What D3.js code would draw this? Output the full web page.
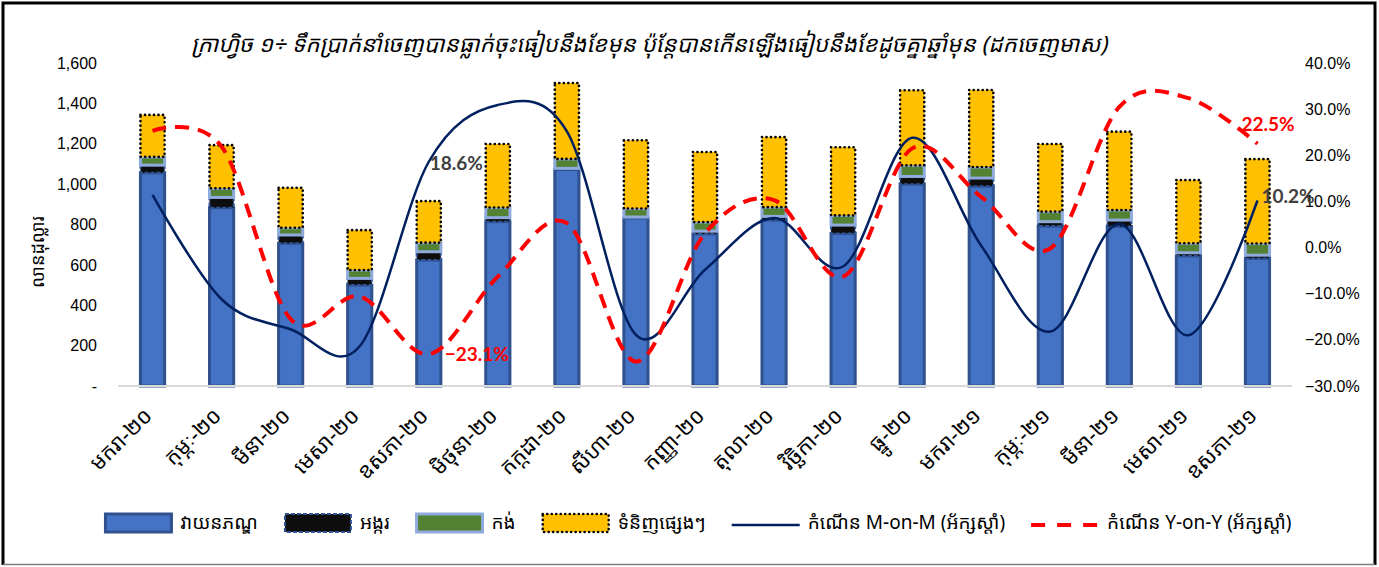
<!DOCTYPE html>
<html>
<head>
<meta charset="utf-8">
<script src="https://cdn.jsdelivr.net/npm/d3@7"></script>
<style>
body { margin: 0; background: #fff; }
text { font-family: "Liberation Sans Narrow", "Arial Narrow", "Liberation Sans", Arial, "Noto Sans Khmer", "Khmer OS", sans-serif; }
.kh { font-family: "Noto Sans Khmer", "Khmer OS", "Noto Serif Khmer", "Liberation Sans", sans-serif; }
</style>
</head>
<body>
<svg id="chart" width="1379" height="567"></svg>
<script>
// monthly exports excluding gold, million USD
var months = ["មករា-២០", "កុម្ភៈ-២០", "មីនា-២០", "មេសា-២០", "ឧសភា-២០", "មិថុនា-២០",
  "កក្កដា-២០", "សីហា-២០", "កញ្ញា-២០", "តុលា-២០", "វិច្ឆិកា-២០", "ធ្នូ-២០",
  "មករា-២១", "កុម្ភៈ-២១", "មីនា-២១", "មេសា-២១", "ឧសភា-២១"];

var garment = [1056, 883, 707, 500, 624, 814, 1072, 832, 753, 822, 756, 1000, 990, 792, 790, 644, 632];
var rice    = [38, 51, 41, 33, 41, 20, 6, 5, 14, 18, 41, 38, 40, 22, 32, 16, 16];
var bicycle = [41, 45, 36, 41, 45, 50, 47, 42, 45, 46, 48, 55, 55, 50, 50, 47, 58];
var other   = [208, 214, 198, 198, 206, 315, 376, 338, 347, 347, 338, 372, 381, 335, 388, 313, 418];

// growth rates, right axis
var momGrowth = [0.114, -0.112, -0.177, -0.214, 0.186, 0.309, 0.252, -0.189, -0.048, 0.064, -0.041, 0.238, 0.004, -0.182, 0.051, -0.190, 0.102];
var yoyGrowth = [0.253, 0.219, -0.155, -0.106, -0.231, -0.063, 0.053, -0.247, 0.031, 0.103, -0.063, 0.215, 0.110, -0.002, 0.305, 0.324, 0.225];

var leftTicks = [0, 200, 400, 600, 800, 1000, 1200, 1400, 1600];
var rightTicks = [-0.3, -0.2, -0.1, 0, 0.1, 0.2, 0.3, 0.4];

var seriesNames = ["វាយនភណ្ឌ", "អង្ករ", "កង់", "ទំនិញផ្សេងៗ"];
var lineNames = ["កំណើន M-on-M (អ័ក្សស្តាំ)", "កំណើន Y-on-Y (អ័ក្សស្តាំ)"];
var title = "ក្រាហ្វិច ១÷ ទឹកប្រាក់នាំចេញបានធ្លាក់ចុះធៀបនឹងខែមុន ប៉ុន្តែបានកើនឡើងធៀបនឹងខែដូចគ្នាឆ្នាំមុន (ដកចេញមាស)";
var yTitle = "លានដុល្លារ";

// styles for each stacked series
var barStyles = [
  { fill: "#4472C4", stroke: "#2F528F", width: 3, dash: null },
  { fill: "#0D0D0D", stroke: "#2F5597", width: 2, dash: "4,2" },
  { fill: "#548235", stroke: "#8FAADC", width: 3, dash: null },
  { fill: "#FFC000", stroke: "#000000", width: 2.6, dash: "0.1,4.4" }
];

var svg = d3.select("#chart");

// frame
svg.append("rect").attr("x", 0).attr("y", 0).attr("width", 1379).attr("height", 567).attr("fill", "#fff");
svg.append("path").attr("d", "M3,565 L3,3 L1375,3 L1375,565").attr("fill", "none").attr("stroke", "#000").attr("stroke-width", 3);
svg.append("line").attr("x1", 3).attr("x2", 1375).attr("y1", 564.5).attr("y2", 564.5).attr("stroke", "#7f7f7f").attr("stroke-width", 1.5);

// scales
var x = d3.scaleBand().domain(months).range([118, 1292]).paddingInner(0.65).paddingOuter(0.325);
var yL = d3.scaleLinear().domain([0, 1600]).range([386, 63]);
var yR = d3.scaleLinear().domain([-0.3, 0.4]).range([386, 63]);
var bw = x.bandwidth();
function cx(i) { return x(months[i]) + bw / 2; }

// title
svg.append("text").attr("class", "kh")
  .attr("x", 649).attr("y", 52)
  .attr("text-anchor", "middle")
  .attr("font-size", 22.5).attr("font-style", "italic")
  .attr("fill", "#000")
  .text(title);

// y axis title
svg.append("text").attr("class", "kh")
  .attr("transform", "translate(44,252) rotate(-90)")
  .attr("text-anchor", "middle")
  .attr("font-size", 18).attr("fill", "#000")
  .text(yTitle);

// left axis
var leftAxis = svg.append("g")
  .attr("transform", "translate(103,0)")
  .call(d3.axisLeft(yL).tickValues(leftTicks).tickSize(0).tickPadding(6)
    .tickFormat(function(d) { return d === 0 ? "-" : d3.format(",")(d); }));
leftAxis.select(".domain").remove();
leftAxis.selectAll("text").attr("font-size", 16).attr("fill", "#000")
  .style("font-family", "'Liberation Sans Narrow','Arial Narrow',sans-serif");

// right axis
var rightAxis = svg.append("g")
  .attr("transform", "translate(1299,0)")
  .call(d3.axisRight(yR).tickValues(rightTicks).tickSize(0).tickPadding(6)
    .tickFormat(d3.format(".1%")));
rightAxis.select(".domain").remove();
rightAxis.selectAll("text").attr("font-size", 16).attr("fill", "#000")
  .style("font-family", "'Liberation Sans Narrow','Arial Narrow',sans-serif");

// stacked bars
var stackData = [garment, rice, bicycle, other];
var cum = months.map(function() { return 0; });
stackData.forEach(function(vals, k) {
  var st = barStyles[k];
  var g = svg.append("g").attr("class", "series-" + k);
  months.forEach(function(m, i) {
    var y0 = cum[i], y1 = cum[i] + vals[i];
    var r = g.append("rect")
      .attr("x", x(m)).attr("width", bw)
      .attr("y", yL(y1)).attr("height", yL(y0) - yL(y1))
      .attr("fill", st.fill)
      .attr("stroke", st.stroke).attr("stroke-width", st.width);
    if (st.dash) r.attr("stroke-dasharray", st.dash).attr("stroke-linecap", k === 3 ? "round" : "butt");
    cum[i] = y1;
  });
});

// baseline
svg.append("line").attr("x1", 118).attr("x2", 1292).attr("y1", yL(0)).attr("y2", yL(0))
  .attr("stroke", "#D9D9D9").attr("stroke-width", 2);

// growth lines
var line = d3.line()
  .x(function(d, i) { return cx(i); })
  .y(function(d) { return yR(d); })
  .curve(d3.curveCardinal.tension(0));

svg.append("path").datum(momGrowth)
  .attr("d", line).attr("fill", "none")
  .attr("stroke", "#002060").attr("stroke-width", 2.5);

svg.append("path").datum(yoyGrowth)
  .attr("d", line).attr("fill", "none")
  .attr("stroke", "#FF0000").attr("stroke-width", 4)
  .attr("stroke-dasharray", "14,9");

// data labels
var pct = d3.format(".1%");
function dataLabel(vals, i, color, dx, dy) {
  svg.append("text")
    .attr("x", cx(i) + dx).attr("y", yR(vals[i]) + dy)
    .attr("font-size", 19).attr("font-weight", "bold")
    .attr("fill", color)
    .style("font-family", "Lato, 'Liberation Sans', sans-serif")
    .text(pct(vals[i]));
}
dataLabel(momGrowth, 4, "#404040", 1, 8);
dataLabel(momGrowth, 16, "#404040", 4, 2);
dataLabel(yoyGrowth, 4, "#FF0000", 16, 7);
dataLabel(yoyGrowth, 16, "#FF0000", -16, -13);

// x labels
months.forEach(function(m, i) {
  svg.append("text").attr("class", "kh")
    .attr("transform", "translate(" + (cx(i) + 1) + ",417) rotate(-45)")
    .attr("text-anchor", "end")
    .attr("font-size", 21.5).attr("fill", "#000")
    .text(m);
});

// legend
var legend = svg.append("g");
var lx = 0, ly = 523;
var items = seriesNames.map(function(n, k) { return { name: n, type: "bar", k: k }; })
  .concat(lineNames.map(function(n, k) { return { name: n, type: "line", k: k }; }));
items.forEach(function(it) {
  var g = legend.append("g").attr("transform", "translate(" + lx + ",0)");
  if (it.type === "bar") {
    var st = barStyles[it.k];
    var r = g.append("rect").attr("x", 1).attr("y", ly - 9).attr("width", 66).attr("height", 18)
      .attr("fill", st.fill).attr("stroke", st.stroke).attr("stroke-width", st.width);
    if (st.dash) r.attr("stroke-dasharray", st.dash).attr("stroke-linecap", it.k === 3 ? "round" : "butt");
  } else if (it.k === 0) {
    g.append("line").attr("x1", 0).attr("x2", 68).attr("y1", ly + 2).attr("y2", ly + 2)
      .attr("stroke", "#002060").attr("stroke-width", 2.5);
  } else {
    g.append("line").attr("x1", 0).attr("x2", 68).attr("y1", ly + 2).attr("y2", ly + 2)
      .attr("stroke", "#FF0000").attr("stroke-width", 4).attr("stroke-dasharray", "14,12");
  }
  var t = g.append("text").attr("class", "kh")
    .attr("x", 76).attr("y", ly + 6)
    .attr("font-size", 19).attr("fill", "#000")
    .text(it.name);
  lx += 76 + t.node().getComputedTextLength() + 26;
});
var legW = lx - 26;
legend.attr("transform", "translate(" + (698 - legW / 2) + ",0)");
</script>
</body>
</html>
